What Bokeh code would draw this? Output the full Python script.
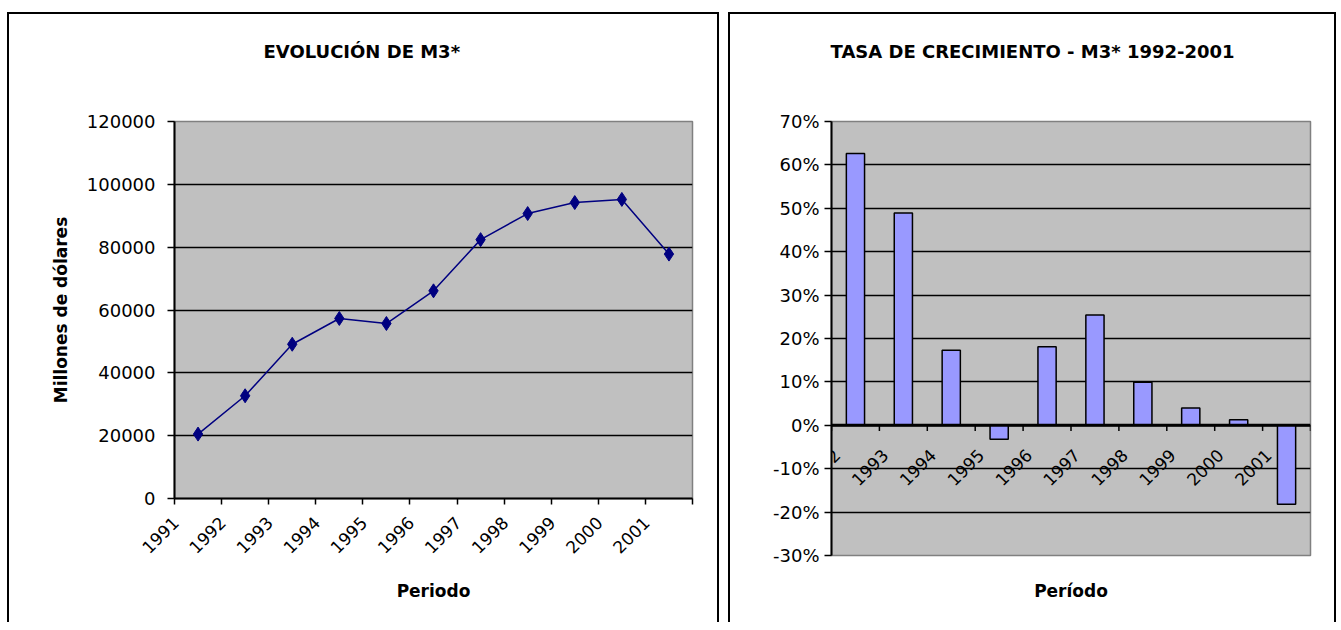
import numpy as np
from math import pi
from bokeh.plotting import figure
from bokeh.models import (Range1d, FixedTicker, LinearAxis, NumeralTickFormatter, Span,
                          Label, Title)
from bokeh.embed import file_html
from bokeh.resources import INLINE

# ---------------- data ----------------
years_level = ["1991", "1992", "1993", "1994", "1995", "1996", "1997", "1998", "1999", "2000", "2001"]
m3_level = [20500, 32700, 49100, 57300, 55700, 66100, 82400, 90700, 94200, 95200, 77800]
level_ticks = [0, 20000, 40000, 60000, 80000, 100000, 120000]

years_growth = ["1992", "1993", "1994", "1995", "1996", "1997", "1998", "1999", "2000", "2001"]
m3_growth = [0.626, 0.489, 0.173, -0.032, 0.181, 0.254, 0.099, 0.040, 0.013, -0.182]
growth_ticks = [-0.3, -0.2, -0.1, 0.0, 0.1, 0.2, 0.3, 0.4, 0.5, 0.6, 0.7]

FONT = "DejaVu Sans"
BG = "#C0C0C0"


def box_style(left, top):
    return {"position": "absolute", "left": f"{left}px", "top": f"{top}px",
            "border-top": "2px solid black", "border-left": "2px solid black",
            "border-right": "2px solid black"}


def add_title(p, text, offset):
    # invisible axis used only to keep the title away from the plot frame
    spacer = LinearAxis(ticker=FixedTicker(ticks=[1]), major_label_overrides={1: ""},
                        major_label_text_font_size="0px", axis_line_color=None,
                        major_tick_line_color=None, minor_tick_line_color=None,
                        major_tick_out=55, major_tick_in=0, minor_tick_out=0,
                        major_label_standoff=0)
    p.add_layout(spacer, "above")
    p.add_layout(Title(text=text, align="left", offset=offset, text_font=FONT,
                       text_font_size="18px", text_font_style="bold",
                       text_color="black"), "above")


def style_yaxis(ax, standoff):
    ax.major_label_text_font = FONT
    ax.major_label_text_font_size = "18px"
    ax.major_label_text_color = "black"
    ax.major_label_standoff = standoff
    ax.major_tick_out = 7
    ax.major_tick_in = 0
    ax.minor_tick_line_color = None
    ax.axis_line_width = 2
    ax.major_tick_line_width = 1.5


def style_axis_label(ax, text, standoff):
    ax.axis_label = text
    ax.axis_label_text_font = FONT
    ax.axis_label_text_font_size = "17px"
    ax.axis_label_text_font_style = "bold"
    ax.axis_label_text_color = "black"
    ax.axis_label_standoff = standoff


# ---------------- left chart ----------------
n1 = len(years_level)
p1 = figure(width=712, height=610, x_range=Range1d(0, n1), y_range=Range1d(0, 120000),
            title=None, output_backend="svg", toolbar_location=None,
            min_border_left=165, min_border_right=29, min_border_top=107, min_border_bottom=126)
p1.styles = box_style(7, 12)
p1.background_fill_color = BG
p1.outline_line_color = "#808080"
p1.outline_line_width = 1.5

ya = p1.left[0]
xa = p1.below[0]

x1 = np.arange(n1) + 0.5
p1.line(x1, m3_level, line_color="#000080", line_width=1.5)
p1.scatter(x1, m3_level, marker="diamond", size=14, fill_color="#000080", line_color="#000080")

p1.xgrid.visible = False
p1.ygrid.ticker = FixedTicker(ticks=level_ticks[1:-1])
p1.ygrid.grid_line_color = "black"
p1.ygrid.grid_line_width = 1.5

ya.ticker = FixedTicker(ticks=level_ticks)
ya.formatter = NumeralTickFormatter(format="0")
style_yaxis(ya, 12)
style_axis_label(ya, "Millones de dólares", 13)

xa.ticker = FixedTicker(ticks=list(range(n1 + 1)))
xa.major_label_overrides = {i: "" for i in range(n1 + 1)}
xa.major_label_text_font_size = "0px"
xa.major_label_standoff = 0
xa.major_tick_out = 6
xa.major_tick_in = 0
xa.minor_tick_line_color = None
xa.axis_line_width = 2
xa.major_tick_line_width = 1.5

p1.extra_x_ranges = {"lab": Range1d(-0.02, n1 - 0.02)}
xa2 = LinearAxis(x_range_name="lab", ticker=FixedTicker(ticks=list(range(n1))),
                 major_label_overrides={i: y for i, y in enumerate(years_level)},
                 major_label_orientation=pi / 4)
xa2.axis_line_color = None
xa2.major_tick_line_color = None
xa2.minor_tick_line_color = None
xa2.major_label_text_font = FONT
xa2.major_label_text_font_size = "17px"
xa2.major_label_text_color = "black"
xa2.major_label_standoff = 9
style_axis_label(xa2, "Periodo", 19)
p1.add_layout(xa2, "below")
add_title(p1, "EVOLUCIÓN DE M3*", 89)

# ---------------- right chart ----------------
n2 = len(years_growth)
p2 = figure(width=608, height=610, x_range=Range1d(0, n2), y_range=Range1d(-0.3, 0.7),
            title=None, output_backend="svg", toolbar_location=None,
            min_border_left=101, min_border_right=28, min_border_top=107, min_border_bottom=69)
p2.styles = box_style(728, 12)
p2.background_fill_color = BG
p2.outline_line_color = "#808080"
p2.outline_line_width = 1.5

ya2 = p2.left[0]
xb = p2.below[0]

p2.xgrid.visible = False
p2.ygrid.ticker = FixedTicker(ticks=[t for t in growth_ticks if -0.3 < t < 0.7])
p2.ygrid.grid_line_color = "black"
p2.ygrid.grid_line_width = 1.5

x2 = np.arange(n2) + 0.5
p2.vbar(x=x2, top=m3_growth, bottom=0, width=0.38, fill_color="#9999FF",
        line_color="black", line_width=1.5)
p2.add_layout(Span(location=0, dimension="width", line_color="black", line_width=3))
bounds = np.arange(n2 + 1)
p2.segment(x0=bounds, y0=0, x1=bounds, y1=-0.013, line_color="black", line_width=1.5)

for i, yr in enumerate(years_growth):
    p2.add_layout(Label(x=float(bounds[i]), y=0.0, text=yr, angle=pi / 4,
                        text_align="right", text_baseline="top", x_offset=1, y_offset=-22,
                        text_font=FONT, text_font_size="17px", text_color="black",
                        level="overlay"))

ya2.ticker = FixedTicker(ticks=growth_ticks)
ya2.formatter = NumeralTickFormatter(format="0%")
style_yaxis(ya2, 5)

xb.ticker = FixedTicker(ticks=[])
xb.axis_line_color = None
xb.major_tick_line_color = None
xb.minor_tick_line_color = None
style_axis_label(xb, "Período", 25)
add_title(p2, "TASA DE CRECIMIENTO - M3* 1992-2001", -1)

open("out.html", "w").write(file_html([p1, p2], INLINE))
